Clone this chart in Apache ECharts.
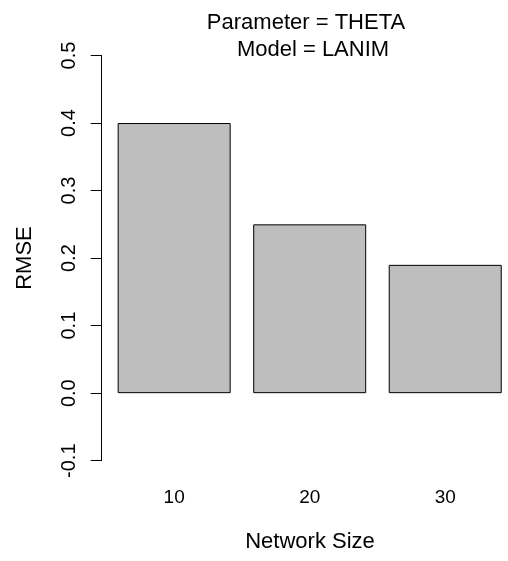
<!DOCTYPE html>
<html>
<head>
<meta charset="utf-8">
<script src="https://cdn.jsdelivr.net/npm/echarts@6/dist/echarts.min.js"></script>
<style>html,body{margin:0;padding:0;background:#fff}#c{width:508px;height:561px}</style>
</head>
<body>
<div id="c"></div>
<script>
var categories = ['10', '20', '30'];
var rmse = [0.40, 0.25, 0.19];
var yTicks = [-0.1, 0.0, 0.1, 0.2, 0.3, 0.4, 0.5];

var FONT = '"Liberation Sans", Arial, Helvetica, sans-serif';
var chart = echarts.init(document.getElementById('c'), null, {renderer: 'canvas'});
chart.setOption({
  animation: false,
  backgroundColor: '#ffffff',
  grid: {left: 106.4, top: 55.5, width: 406.6, height: 405.2, containLabel: false, outerBoundsMode: 'none'},
  xAxis: {
    type: 'category',
    data: categories,
    axisLine: {show: false},
    axisTick: {show: false},
    axisLabel: {fontFamily: FONT, fontSize: 19, color: '#000', margin: 28},
    splitLine: {show: false}
  },
  yAxis: {
    type: 'value',
    min: yTicks[0],
    max: yTicks[yTicks.length - 1],
    interval: 0.1,
    offset: 4.7,
    axisLine: {show: true, lineStyle: {color: '#000', width: 1}},
    axisTick: {show: true, length: 11, lineStyle: {color: '#000', width: 1}},
    axisLabel: {
      fontFamily: FONT, fontSize: 20, color: '#000', rotate: 90, margin: 22,
      formatter: function (v) { return (Math.round(v * 10) / 10).toFixed(1); }
    },
    splitLine: {show: false}
  },
  series: [{
    type: 'bar',
    data: rmse,
    barWidth: 113,
    itemStyle: {color: '#bebebe', borderColor: '#000', borderWidth: 1}
  }],
  graphic: [
    {type: 'text', x: 306, y: 23, style: {text: 'Parameter = THETA', font: '22px ' + FONT, fill: '#000', textAlign: 'center', textVerticalAlign: 'middle'}},
    {type: 'text', x: 313, y: 50, style: {text: 'Model = LANIM', font: '22px ' + FONT, fill: '#000', textAlign: 'center', textVerticalAlign: 'middle'}},
    {type: 'text', x: 310, y: 542, style: {text: 'Network Size', font: '22px ' + FONT, fill: '#000', textAlign: 'center', textVerticalAlign: 'middle'}},
    {type: 'text', x: 25, y: 258, rotation: Math.PI / 2, style: {text: 'RMSE', font: '22px ' + FONT, fill: '#000', textAlign: 'center', textVerticalAlign: 'middle'}}
  ]
});
</script>
</body>
</html>
